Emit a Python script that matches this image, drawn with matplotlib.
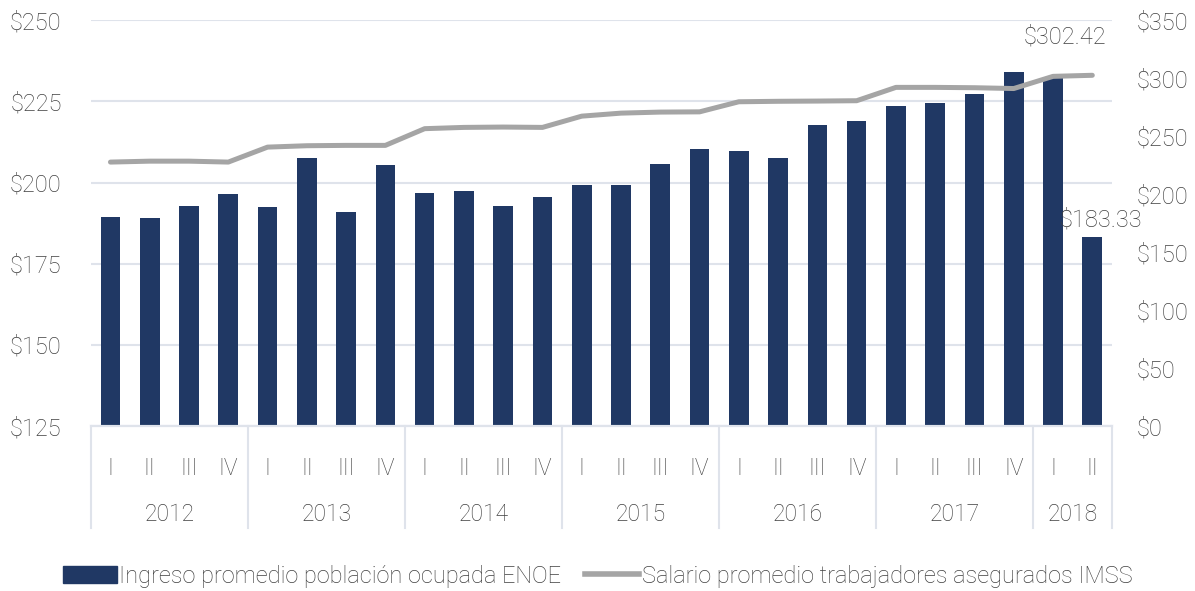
import numpy as np
import matplotlib.pyplot as plt
from matplotlib.transforms import blended_transform_factory
from matplotlib.patches import Patch
from matplotlib.lines import Line2D

plt.rcParams['font.family'] = ['Roboto', 'DejaVu Sans']
plt.rcParams['font.weight'] = 'light'

# data
years = ['2012', '2013', '2014', '2015', '2016', '2017', '2018']
quarters_per_year = [4, 4, 4, 4, 4, 4, 2]
quarter_names = ['I', 'II', 'III', 'IV']

enoe = [189.3, 189.0, 192.7, 196.6,
        192.4, 207.5, 190.9, 205.4,
        196.7, 197.4, 192.9, 195.5,
        199.1, 199.3, 205.8, 210.4,
        209.7, 207.5, 217.7, 218.8,
        223.7, 224.4, 227.1, 234.1,
        232.6, 183.33]
imss = [227.6, 228.4, 228.4, 227.6,
        240.5, 241.7, 242.0, 242.0,
        256.4, 257.5, 257.8, 257.5,
        267.2, 269.8, 270.7, 270.9,
        279.6, 280.0, 280.2, 280.5,
        292.0, 292.0, 291.7, 291.0,
        301.5, 302.42]

labels = [quarter_names[i] for n in quarters_per_year for i in range(n)]
x = np.arange(len(enoe))

navy = '#203864'
grey = '#a5a5a5'
txt = '#404040'
gridc = '#dfe3eb'

fig = plt.figure(figsize=(11.95, 5.91), dpi=100)
ax = fig.add_axes([0.076, 0.279, 0.8545, 0.687])
ax2 = ax.twinx()

ax.bar(x, enoe, width=0.5, color=navy, zorder=2)
ax.set_ylim(125, 250)
ax.set_yticks(np.arange(125, 251, 25))
ax.set_yticklabels(['$%d' % v for v in range(125, 251, 25)])
ax.grid(axis='y', color=gridc, linewidth=1.5, zorder=0)
ax.set_axisbelow(True)
ax.set_xlim(-0.5, len(enoe) - 0.5)

ax2.plot(x, imss, color=grey, linewidth=3.6, solid_capstyle='round', zorder=3)
ax2.set_ylim(0, 350)
ax2.set_yticks(np.arange(0, 351, 50))
ax2.set_yticklabels(['$%d' % v for v in range(0, 351, 50)])

for a in (ax, ax2):
    for s in ['top', 'left', 'right']:
        a.spines[s].set_visible(False)
    a.spines['bottom'].set_color(gridc)
    a.spines['bottom'].set_linewidth(1.5)
    a.tick_params(axis='y', length=0, labelsize=17, colors=txt)

ax.tick_params(axis='y', pad=21)
ax2.tick_params(axis='y', pad=18)

ax.set_xticks(x)
ax.set_xticklabels(labels)
ax.tick_params(axis='x', length=0, labelsize=16.5, colors=txt, pad=22)

# year labels and separators
trans = blended_transform_factory(ax.transData, ax.transAxes)
start = 0
bounds = [-0.5]
for yr, n in zip(years, quarters_per_year):
    mid = start + (n - 1) / 2
    ax.text(mid, -0.218, yr, transform=trans, ha='center', va='center',
            fontsize=16.5, color=txt)
    start += n
    bounds.append(start - 0.5)
for b in bounds:
    ax.plot([b, b], [0, -0.25], transform=trans, color=gridc,
            linewidth=1.5, clip_on=False)

# value labels
ax2.annotate('$302.42', (x[-1], imss[-1]), xytext=(-20, 19),
             textcoords='offset points', ha='center', va='bottom',
             fontsize=17, color=txt)
ax.annotate('$183.33', (x[-1], enoe[-1]), xytext=(6, 4),
            textcoords='offset points', ha='center', va='bottom',
            fontsize=17, color=txt)

handles = [Patch(color=navy),
           Line2D([0], [0], color=grey, linewidth=4)]
fig.legend(handles, ['Ingreso promedio población ocupada ENOE',
                     'Salario promedio trabajadores asegurados IMSS'],
           loc='center', bbox_to_anchor=(0.5, 0.025), ncol=2, frameon=False,
           fontsize=17, labelcolor=txt, handlelength=2.3, handletextpad=0.1,
           columnspacing=1.0)

fig.savefig('out.png', dpi=100)
